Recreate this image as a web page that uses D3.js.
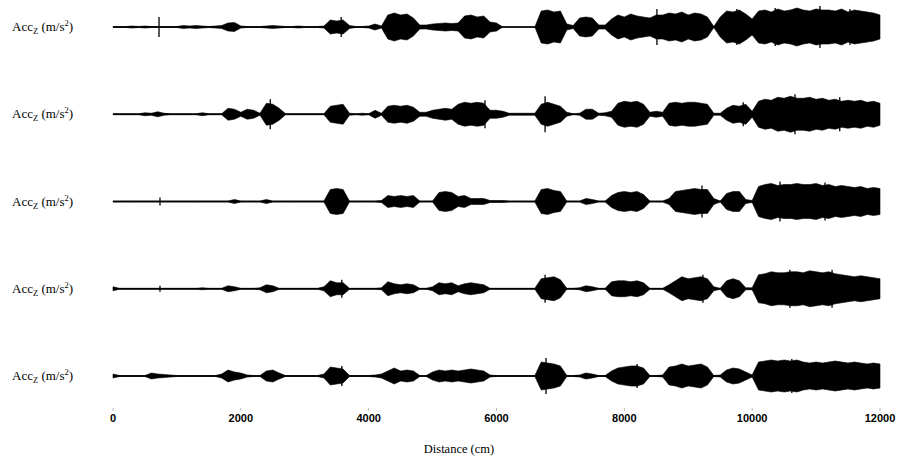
<!DOCTYPE html>
<html>
<head>
<meta charset="utf-8">
<script src="https://cdn.jsdelivr.net/npm/d3@7"></script>
<style>
  body { margin: 0; background: #fff; }
  svg { display: block; }
</style>
</head>
<body>
<svg id="chart" width="903" height="461"></svg>
<script>
// distance ticks (cm)
const xTicks = [0, 2000, 4000, 6000, 8000, 10000, 12000];
const sampleStep = 100; // cm between envelope samples
const rows = ["r1", "r2", "r3", "r4", "r5"];

// |Acc_Z| envelope, one value per 100 cm
const env1 = [0.5,0.5,0.5,1,0.5,1,0.5,0.5,0.5,0.5,0.5,1.5,1,1.5,1,0.5,1,1.5,4,4.5,
  1,0.5,0.5,0.5,1,1.5,1,0.5,0.5,1,0.5,0.5,0.5,1,7,6,7,1.5,0.5,0.5,
  1,3,1,12,14,12,13,9,2,2,3,3.5,4,3.5,4,11,12,10,11,5,
  4,0,0,0,0,0,0,16,17,15,16,3,1.5,9,10,9,2,2,8,12,
  10,13,11,10,9,12,12,14,13,15,12,14,13,10,0.5,10,16,15,17,13,
  8,16,17,15,18,16,17,19,17,16,18,17,17,16,18,15,17,16,15,14,12];
const env2 = [0.5,0.5,0.5,0.5,0.5,1.5,1,2.5,1,0.5,0.5,0.5,0.5,0.5,1.5,0.5,0.5,0.5,6,5,
  2,5,4,1,11,10,6,0.5,0.5,0.5,0.5,0.5,0.5,0.5,8,9,10,1,0.5,1,
  0.5,4,1,8,9,8,9,7,2,2,4,5,6,5,10,12,11,12,11,4,
  4,3,1,1,1,1,1,10,12,10,8,2,0.5,1,5,5,1,1.5,3,11,
  13,12,13,10,2,3,2,11,12,11,12,12,11,10,1,1,6,9,8,10,
  3,13,15,14,17,16,18,16,16,17,15,16,14,15,13,14,13,14,12,13,11];
const env3 = [0.5,0.5,0.5,0.5,0.5,0.5,0.5,0.5,0.5,0.5,0.5,0.5,0.5,0.5,0.5,0.5,0.5,0.5,0.5,2,
  0.5,0.5,0.5,0.5,2,0.5,0.5,0.5,0.5,0.5,0.5,0.5,0.5,0.5,12,13,12,0.5,0.5,0.5,
  0.5,0.5,1,6,5,6,5,6,0.5,0.5,0.5,9,10,9,5,6,3,3,3,1,
  1,1,0.5,0.5,0.5,0.5,0.5,12,13,11,10,0.5,0.5,0.5,3,2,0.5,0.5,6,9,
  10,9,10,7,0.5,0.5,0.5,3,10,11,12,13,12,12,3,0.5,8,10,10,2,
  1,15,17,18,16,17,17,18,17,17,18,16,17,15,16,15,14,15,13,14,13];
const env4 = [2,0.5,0.5,0.5,0.5,0.5,0.5,0.5,0.5,0.5,0.5,0.5,0.5,0.5,1,0.5,0.5,0.5,3,2,
  0.5,0.5,0.5,1,4,3,0.5,0.5,0.5,0.5,0.5,0.5,0.5,2,8,6,6,0.5,0.5,0.5,
  0.5,0.5,1,7,5,4,5,4,0.5,0.5,2,6,5,6,3,5,6,5,4,0.5,
  0.5,0.5,0.5,0.5,0.5,0.5,0.5,10,11,12,9,0.5,0.5,1,3,2,0.5,0.5,7,8,
  8,7,8,6,0.5,0.5,0.5,4,8,12,10,11,12,10,2,0.5,8,10,8,1,
  1,14,15,17,16,16,17,17,16,18,17,16,17,15,14,13,12,13,12,11,10];
const env5 = [2,0.5,0.5,0.5,0.5,0.5,3,2,1.5,1,0.5,0.5,0.5,0.5,0.5,0.5,0.5,2,6,4,
  3,1,0.5,0.5,5,6,3,0.5,0.5,0.5,0.5,0.5,0.5,2,9,8,7,0.5,0.5,0.5,
  0.5,1,2,5,8,5,6,5,0.5,0.5,4,6,5,6,5,6,7,6,5,1,
  0.5,0.5,0.5,0.5,0.5,0.5,0.5,14,13,12,10,0.5,0.5,1,3,2,0.5,0.5,5,8,
  9,10,10,8,0.5,0.5,1,9,10,12,10,11,12,9,0.5,1,6,8,7,4,
  1,14,15,16,15,16,15,16,14,13,14,13,14,15,14,13,14,13,12,13,12];
const envelopes = [env1, env2, env3, env4, env5];

// isolated thin spikes: [distance cm, amplitude]
const spikes1 = [[720, 10], [3570, 10], [8510, 18], [9760, 18], [10360, 19], [11060, 21], [11530, 18]];
const spikes2 = [[2460, 15], [5820, 14], [6760, 18], [9860, 12], [10670, 20], [11370, 17]];
const spikes3 = [[735, 4], [9215, 16], [10435, 20], [11140, 19]];
const spikes4 = [[735, 3], [3580, 9], [6760, 14], [9230, 14], [10590, 19], [11250, 19]];
const spikes5 = [[3580, 10], [6775, 18], [8200, 12], [10620, 17]];
const spikeSets = [spikes1, spikes2, spikes3, spikes4, spikes5];

const svg = d3.select("#chart");

const x = d3.scaleLinear().domain([0, 12000]).range([113, 880]);
const rowY = d3.scalePoint().domain(rows).range([27, 376]);

// signals
rows.forEach((r, k) => {
  const base = rowY(r);
  const y = d3.scaleLinear().domain([-20, 20]).range([base + 20, base - 20]);
  const env = envelopes[k];

  svg.append("line")
    .attr("x1", x(0)).attr("x2", x(12000))
    .attr("y1", base).attr("y2", base)
    .attr("stroke", "#000")
    .attr("stroke-width", 1.6);

  const area = d3.area()
    .x((d, i) => x(i * sampleStep))
    .y0(d => y(-d))
    .y1(d => y(d))
    .curve(d3.curveLinear);

  svg.append("path")
    .datum(env)
    .attr("d", area)
    .attr("fill", "#000")
    .attr("stroke", "#000")
    .attr("stroke-width", 0.6);

  svg.selectAll(null)
    .data(spikeSets[k])
    .enter()
    .append("line")
    .attr("x1", d => x(d[0])).attr("x2", d => x(d[0]))
    .attr("y1", d => y(d[1])).attr("y2", d => y(-d[1]))
    .attr("stroke", "#000")
    .attr("stroke-width", 1.3);

  //row label
  const t = svg.append("text")
    .attr("x", 12)
    .attr("y", base + 4)
    .style("font-family", "'Liberation Serif', 'Times New Roman', serif")
    .style("font-size", "13px")
    .attr("fill", "#000");
  t.append("tspan").text("Acc");
  t.append("tspan").attr("dy", 3).style("font-size", "8.5px").text("Z");
  t.append("tspan").attr("dy", -3).text(" (m/s");
  t.append("tspan").attr("dy", -5).style("font-size", "8.5px").text("2");
  t.append("tspan").attr("dy", 5).text(")");
});

// x axis (ticks only, no domain line)
const axis = svg.append("g");
xTicks.forEach(v => {
  axis.append("line")
    .attr("x1", x(v)).attr("x2", x(v))
    .attr("y1", 408).attr("y2", 411)
    .attr("stroke", "#bbb")
    .attr("stroke-width", 1);
  axis.append("text")
    .attr("x", x(v))
    .attr("y", 422)
    .attr("text-anchor", "middle")
    .style("font-family", "'Liberation Sans Narrow', 'Liberation Sans', Arial, sans-serif")
    .style("font-weight", "bold")
    .style("font-size", "11px")
    .text(v);
});

svg.append("text")
  .attr("x", 459)
  .attr("y", 453)
  .attr("text-anchor", "middle")
  .style("font-family", "'Liberation Serif', 'Times New Roman', serif")
  .style("font-size", "12.5px")
  .text("Distance (cm)");
</script>
</body>
</html>
